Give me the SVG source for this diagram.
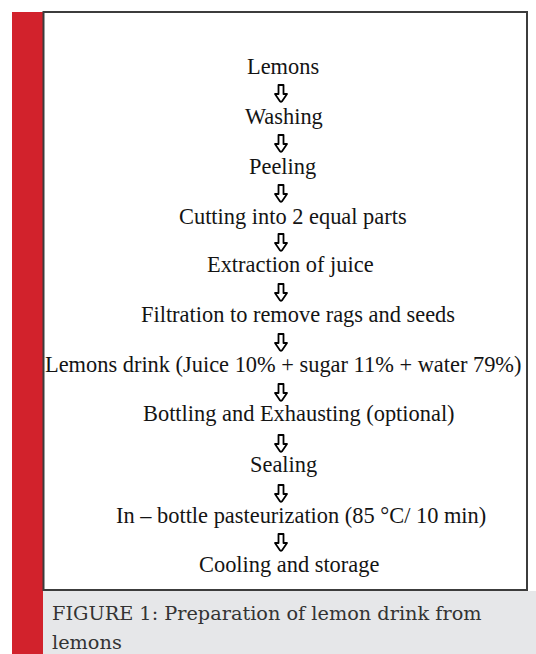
<svg xmlns="http://www.w3.org/2000/svg" width="536" height="654" viewBox="0 0 536 654">
<style>
.step{font-family:"Liberation Serif","Times New Roman",serif;font-size:22.4px;fill:#141414}
.cap{font-family:"DejaVu Serif","Liberation Serif",serif;font-size:19.3px;fill:#333}
.arr{fill:#fff;stroke:#000;stroke-width:1.8;stroke-linejoin:round}
</style>
<defs>
<path id="dn" class="arr" d="M-2.5,0 H2.5 V9 H6 L0.9,16.4 Q0,17.4 -0.9,16.4 L-6,9 H-2.5 Z"/>
</defs>
<rect x="0" y="0" width="536" height="654" fill="#fff"/>
<rect x="12" y="12" width="31" height="642" fill="#d2222c"/>
<rect x="43" y="591" width="493" height="63" fill="#e6e7e9"/>
<rect x="43.5" y="12" width="483.5" height="578" fill="#fff" stroke="#3c3c3c" stroke-width="2"/>
<g id="connectors">
<use href="#dn" x="281" y="85"/>
<use href="#dn" x="281" y="135"/>
<use href="#dn" x="281" y="185"/>
<use href="#dn" x="281" y="234"/>
<use href="#dn" x="281" y="284"/>
<use href="#dn" x="281" y="334"/>
<use href="#dn" x="281" y="384"/>
<use href="#dn" x="281" y="435"/>
<use href="#dn" x="281" y="485"/>
<use href="#dn" x="281" y="534"/>
</g>
<g id="n1"><text class="step" x="247" y="74">Lemons</text></g>
<g id="n2"><text class="step" x="245" y="124">Washing</text></g>
<g id="n3"><text class="step" x="249" y="174">Peeling</text></g>
<g id="n4"><text class="step" x="179" y="224">Cutting into 2 equal parts</text></g>
<g id="n5"><text class="step" x="207" y="272">Extraction of juice</text></g>
<g id="n6"><text class="step" x="141" y="322">Filtration to remove rags and seeds</text></g>
<g id="n7"><text class="step" x="45" y="372">Lemons drink (Juice 10% + sugar 11% + water 79%)</text></g>
<g id="n8"><text class="step" x="143" y="421">Bottling and Exhausting (optional)</text></g>
<g id="n9"><text class="step" x="250" y="472">Sealing</text></g>
<g id="n10"><text class="step" x="116" y="523">In – bottle pasteurization (85 °C/ 10 min)</text></g>
<g id="n11"><text class="step" x="199" y="572">Cooling and storage</text></g>
<g id="caption">
<text class="cap" x="52" y="620">FIGURE 1: Preparation of lemon drink from</text>
<text class="cap" x="52" y="649">lemons</text>
</g>
</svg>
